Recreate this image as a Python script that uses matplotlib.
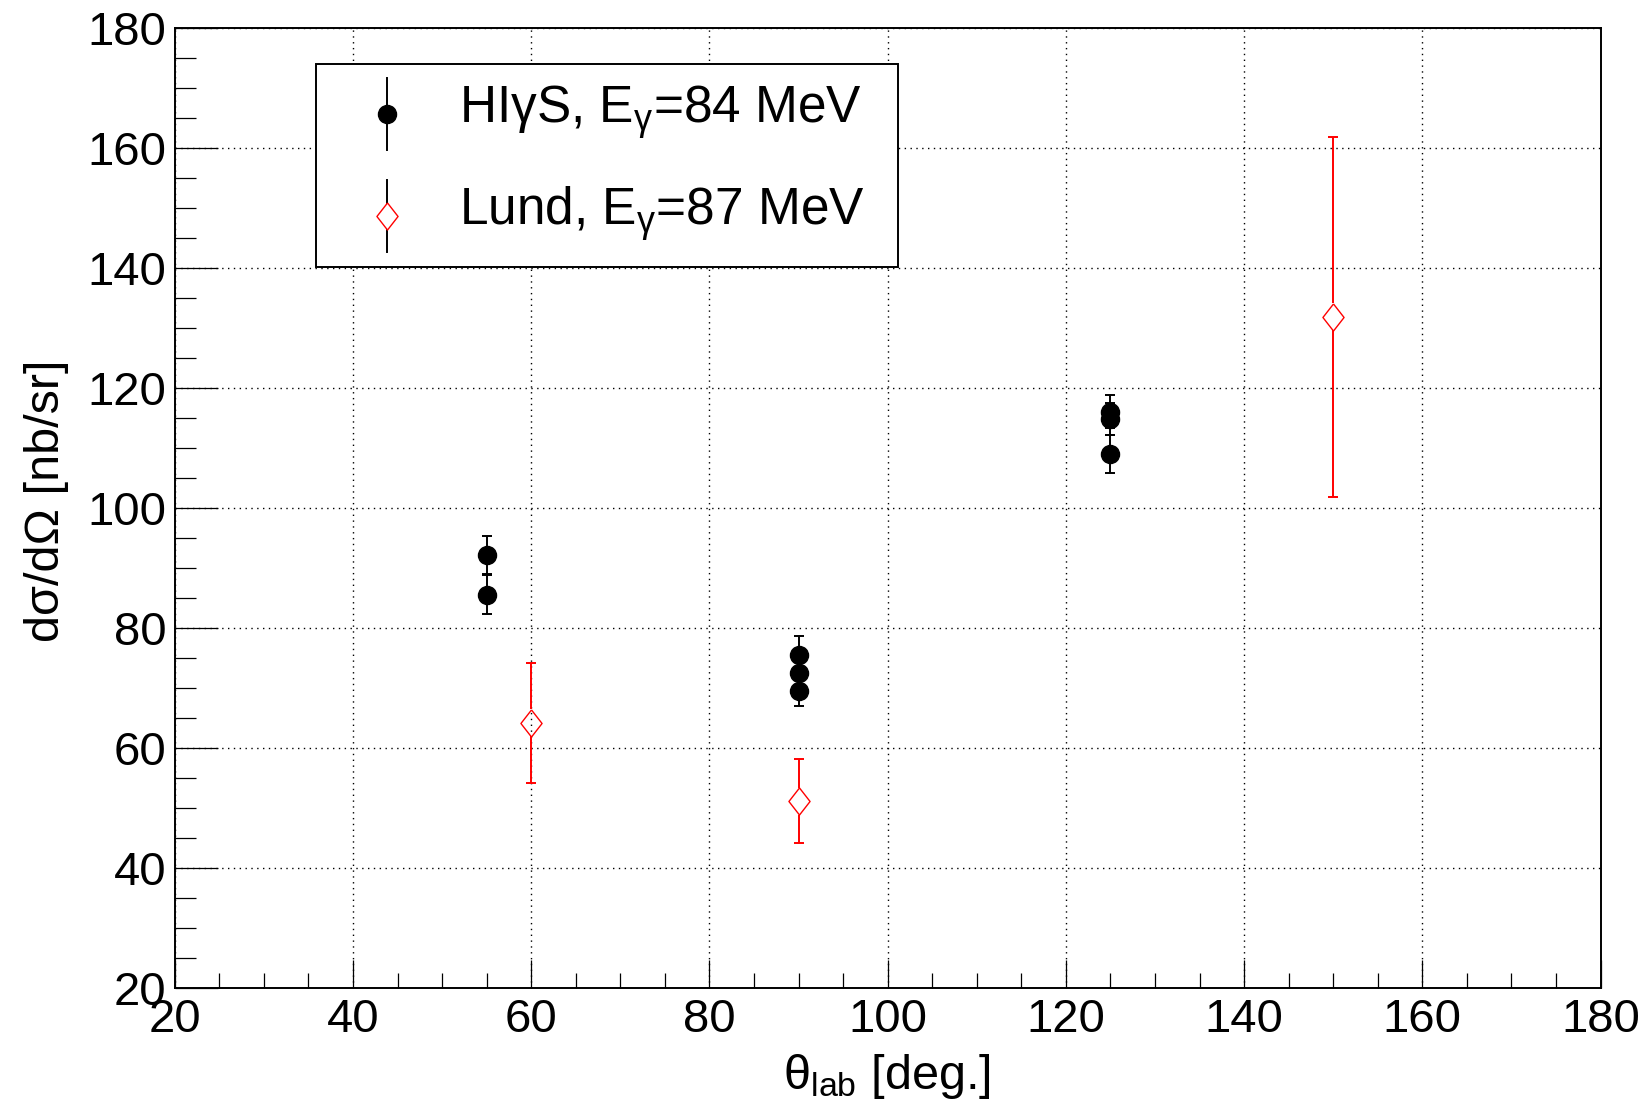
import matplotlib
matplotlib.use("Agg")
import matplotlib.pyplot as plt
from matplotlib.lines import Line2D
from matplotlib.patches import Rectangle
from matplotlib.ticker import MultipleLocator

plt.rcParams["font.family"] = ["Liberation Sans", "DejaVu Sans"]
plt.rcParams["mathtext.fontset"] = "custom"
plt.rcParams["mathtext.rm"] = "Liberation Sans"
plt.rcParams["mathtext.it"] = "Liberation Sans:italic"

# HIgS, E_gamma = 84 MeV
higs_theta = [55, 55, 90, 90, 90, 125, 125, 125]
higs_xs = [92.2, 85.6, 75.5, 72.5, 69.5, 116.1, 114.9, 109.0]
higs_err = [3.2, 3.2, 3.2, 3.0, 2.5, 2.8, 2.7, 3.2]

# Lund, E_gamma = 87 MeV
lund_theta = [60, 90, 150]
lund_xs = [64.2, 51.1, 131.9]
lund_err = [10.0, 7.0, 30.0]

labels = [r"HIγS, E$_{\mathrm{γ}}$=84 MeV", r"Lund, E$_{\mathrm{γ}}$=87 MeV"]

fig = plt.figure(figsize=(16.5, 11.04), dpi=100)
ax = fig.add_axes([0.1059, 0.1051, 0.8641, 0.8692])
ax.set_xlim(20, 180)
ax.set_ylim(20, 180)

ax.xaxis.set_major_locator(MultipleLocator(20))
ax.xaxis.set_minor_locator(MultipleLocator(5))
ax.yaxis.set_major_locator(MultipleLocator(20))
ax.yaxis.set_minor_locator(MultipleLocator(5))
ax.tick_params(which="both", direction="in", top=False, right=False,
               width=0.9, labelsize=34)
ax.xaxis.set_tick_params(which="major", length=20, pad=7)
ax.xaxis.set_tick_params(which="minor", length=10.8)
ax.yaxis.set_tick_params(which="major", length=31, pad=6)
ax.yaxis.set_tick_params(which="minor", length=15)
for s in ax.spines.values():
    s.set_linewidth(1.4)

ax.set_axisbelow(True)
ax.grid(True, which="major", color="black", linestyle=(0, (1, 3.2)), linewidth=1.0)

# black points
ax.errorbar(higs_theta, higs_xs, yerr=higs_err, fmt="o", color="black", ms=13,
            elinewidth=1.4, capsize=3.3, capthick=1.4, zorder=3)

# red open diamonds, error bars stop at the marker edge
diamond = [(0, 1), (0.78, 0), (0, -1), (-0.78, 0), (0, 1)]
half = 13.5  # pixels
for x, y, e in zip(lund_theta, lund_xs, lund_err):
    px, py = ax.transData.transform((x, y))
    y_hi = ax.transData.inverted().transform((px, py + half))[1]
    y_lo = ax.transData.inverted().transform((px, py - half))[1]
    ax.vlines([x, x], [y_hi, y - e], [y + e, y_lo], color="red", lw=1.4, zorder=3)
    ax.plot([x, x], [y - e, y + e], ls="none", marker="_", ms=7.2, mew=1.4,
            color="red", zorder=3)
ax.plot(lund_theta, lund_xs, ls="none", marker=diamond, ms=19.5, mfc="none",
        mec="red", mew=1.0, zorder=4)

# legend box
fig.add_artist(Rectangle((0.1915, 0.758), 0.3527, 0.184, transform=fig.transFigure,
                         facecolor="white", edgecolor="black", lw=1.4, zorder=5))
mx = 0.2345
for i, (yc, yb) in enumerate([(0.8971, 0.8886), (0.8046, 0.7962)]):
    fig.add_artist(Line2D([mx, mx], [yc - 0.0326, yc + 0.0326], transform=fig.transFigure,
                          color="black", lw=1.4, zorder=6))
    if i == 0:
        fig.add_artist(Line2D([mx], [yc], transform=fig.transFigure, marker="o",
                              ms=13, color="black", zorder=7))
    else:
        fig.add_artist(Line2D([mx], [yc], transform=fig.transFigure, marker=diamond,
                              ms=19.5, mfc="white", mec="red", mew=1.0, zorder=7))
    fig.text(0.2782, yb, labels[i], fontsize=37, va="baseline", ha="left", zorder=7)

fig.text(0.5378, 0.0136, r"θ$_{\mathrm{lab}}$ [deg.]", fontsize=35,
         ha="center", va="baseline")
fig.text(0.0283, 0.546, "dσ/dΩ [nb/sr]", fontsize=35, rotation=90,
         ha="center", va="center")

fig.savefig("out.png", dpi=100)
